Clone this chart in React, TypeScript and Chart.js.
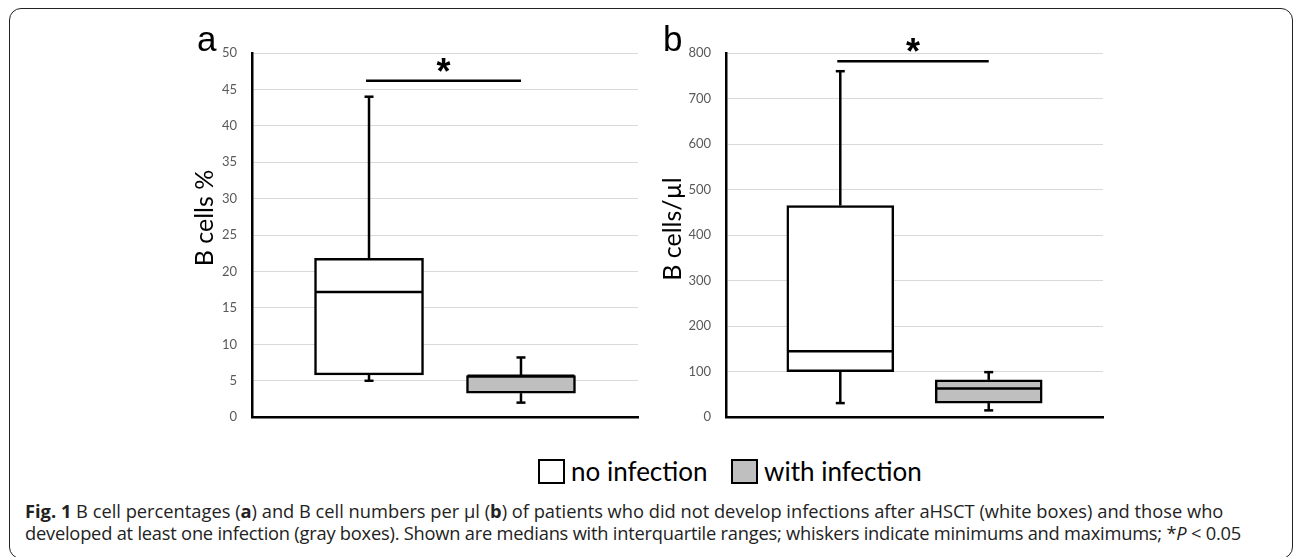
import React, { useEffect, useRef } from 'react';
import { Chart, registerables } from 'chart.js';

Chart.register(...registerables);

// ---- data ----
const groups = ['no infection', 'with infection'];
const groupX = [1, 2];
const fillColors = ['#ffffff', '#bfbfbf'];

// panel a: B cells %
const pctMin = [5.0, 2.0];
const pctQ1 = [5.8, 3.3];
const pctMedian = [17.2, 5.7];
const pctQ3 = [21.8, 5.7];
const pctMax = [44.0, 8.2];
const pctAxis = { min: 0, max: 50, step: 5 };
const pctSig = 46.2;

// panel b: B cells/µl
const absMin = [31, 15];
const absQ1 = [100, 31];
const absMedian = [145, 63];
const absQ3 = [465, 82];
const absMax = [760, 99];
const absAxis = { min: 0, max: 800, step: 100 };
const absSig = 782;

const CHART_FONT = 'Lato, "Open Sans", sans-serif';

type PanelCfg = {
  letter: string;
  title: string;
  mins: number[];
  q1: number[];
  med: number[];
  q3: number[];
  maxs: number[];
  axis: { min: number; max: number; step: number };
  sig: number;
  left: number;
  top: number;
  width: number;
  height: number;
  axisWidth: number;
  padRight: number;
  padTop: number;
  padBottom: number;
  boxWidth: number;
  titleDx: number;
  titleY: number;
  letterX: number;
  letterY: number;
};

const boxPlugin = {
  id: 'boxExtras',
  afterDatasetsDraw(chart: any, _args: any, opts: any) {
    const { ctx, chartArea } = chart;
    const x = chart.scales.x;
    const y = chart.scales.y;
    const cfg: PanelCfg = opts.cfg;
    const meta = chart.getDatasetMeta(0);
    ctx.save();
    ctx.strokeStyle = '#000';
    ctx.lineWidth = 2.5;
    ctx.lineCap = 'butt';
    const line = (x1: number, y1: number, x2: number, y2: number) => {
      ctx.beginPath();
      ctx.moveTo(x1, y1);
      ctx.lineTo(x2, y2);
      ctx.stroke();
    };
    groupX.forEach((gx, i) => {
      const bar = meta.data[i];
      const cx = x.getPixelForValue(gx);
      const half = bar.width / 2;
      const yMax = y.getPixelForValue(cfg.maxs[i]);
      const yMin = y.getPixelForValue(cfg.mins[i]);
      const yQ3 = y.getPixelForValue(cfg.q3[i]);
      const yQ1 = y.getPixelForValue(cfg.q1[i]);
      const yMed = y.getPixelForValue(cfg.med[i]);
      line(cx, yQ3, cx, yMax);
      line(cx - 4.5, yMax, cx + 4.5, yMax);
      line(cx, yQ1, cx, yMin);
      line(cx - 4.5, yMin, cx + 4.5, yMin);
      line(cx - half + 1, yMed, cx + half - 1, yMed);
    });
    // significance bar
    const sy = y.getPixelForValue(cfg.sig);
    const sx1 = x.getPixelForValue(groupX[0]) - 3;
    const sx2 = x.getPixelForValue(groupX[1]);
    line(sx1, sy, sx2, sy);
    ctx.fillStyle = '#000';
    ctx.font = 'bold 36px "Liberation Sans", sans-serif';
    ctx.textAlign = 'center';
    ctx.textBaseline = 'alphabetic';
    ctx.fillText('*', (sx1 + sx2) / 2, sy + 3);
    // axis title
    ctx.save();
    ctx.translate(chartArea.left + cfg.titleDx, cfg.titleY);
    ctx.rotate(-Math.PI / 2);
    ctx.font = '25px ' + CHART_FONT;
    ctx.textAlign = 'center';
    ctx.textBaseline = 'middle';
    ctx.fillText(cfg.title, 0, 0);
    ctx.restore();
    // panel letter
    ctx.font = '35px "Liberation Sans", sans-serif';
    ctx.textAlign = 'left';
    ctx.textBaseline = 'alphabetic';
    ctx.fillText(cfg.letter, cfg.letterX, cfg.letterY);
    ctx.restore();
  },
};

function Panel({ cfg }: { cfg: PanelCfg }) {
  const ref = useRef<HTMLCanvasElement>(null);
  useEffect(() => {
    const canvas = ref.current;
    if (!canvas) return;
    const chart = new Chart(canvas, {
      type: 'bar',
      data: {
        datasets: [
          {
            label: cfg.title,
            data: groupX.map((gx, i) => ({ x: gx, y: [cfg.q1[i], cfg.q3[i]] })),
            backgroundColor: fillColors,
            borderColor: '#000',
            borderWidth: 2.5,
            borderSkipped: false,
            barThickness: cfg.boxWidth,
          },
        ],
      } as any,
      options: {
        animation: false,
        responsive: false,
        maintainAspectRatio: false,
        events: [],
        layout: {
          padding: { left: 0, right: cfg.padRight, top: cfg.padTop, bottom: cfg.padBottom },
        },
        plugins: {
          legend: { display: false },
          tooltip: { enabled: false },
          title: { display: false },
          boxExtras: { cfg },
        } as any,
        scales: {
          x: {
            type: 'linear',
            min: 0.23,
            max: 2.77,
            offset: false,
            grid: { display: false, drawTicks: false },
            ticks: { display: false },
            border: { display: true, color: '#000', width: 2.5 },
            afterFit: (s: any) => {
              s.height = 0;
            },
          },
          y: {
            type: 'linear',
            min: cfg.axis.min,
            max: cfg.axis.max,
            grid: { color: '#d9d9d9', lineWidth: 1, drawTicks: false },
            border: { display: true, color: '#000', width: 2.5 },
            ticks: {
              stepSize: cfg.axis.step,
              padding: 15,
              color: '#595959',
              font: { family: CHART_FONT, size: 13 },
            },
            afterFit: (s: any) => {
              s.width = cfg.axisWidth;
            },
          },
        },
      } as any,
      plugins: [boxPlugin],
    });
    return () => chart.destroy();
  }, [cfg]);
  return (
    <canvas
      ref={ref}
      width={cfg.width}
      height={cfg.height}
      style={{ position: 'absolute', left: cfg.left, top: cfg.top, width: cfg.width, height: cfg.height }}
    />
  );
}

const panelA: PanelCfg = {
  letter: 'a',
  title: 'B cells %',
  mins: pctMin,
  q1: pctQ1,
  med: pctMedian,
  q3: pctQ3,
  maxs: pctMax,
  axis: pctAxis,
  sig: pctSig,
  left: 160,
  top: 20,
  width: 500,
  height: 420,
  axisWidth: 92,
  padRight: 22,
  padTop: 33,
  padBottom: 16,
  boxWidth: 109,
  titleDx: -47,
  titleY: 198,
  letterX: 37,
  letterY: 31,
};

const panelB: PanelCfg = {
  letter: 'b',
  title: 'B cells/µl',
  mins: absMin,
  q1: absQ1,
  med: absMedian,
  q3: absQ3,
  maxs: absMax,
  axis: absAxis,
  sig: absSig,
  left: 630,
  top: 20,
  width: 500,
  height: 420,
  axisWidth: 96,
  padRight: 27,
  padTop: 33,
  padBottom: 17,
  boxWidth: 107,
  titleDx: -53,
  titleY: 209,
  letterX: 33,
  letterY: 31,
};

function LegendItem({ label, color, left }: { label: string; color: string; left: number }) {
  return (
    <div style={{ position: 'absolute', left, top: 456, height: 30, display: 'flex', alignItems: 'center' }}>
      <div
        style={{
          width: 27,
          height: 25,
          boxSizing: 'border-box',
          border: '2px solid #000',
          background: color,
          marginRight: 6,
        }}
      />
      <span style={{ font: '26px ' + CHART_FONT, color: '#000', whiteSpace: 'nowrap' }}>{label}</span>
    </div>
  );
}

export default function App() {
  return (
    <div
      style={{
        position: 'absolute',
        left: 0,
        top: 0,
        width: 1293,
        height: 557,
        overflow: 'hidden',
        background: '#fff',
      }}
    >
      <div
        style={{
          position: 'absolute',
          left: 9,
          top: 8,
          width: 1284,
          height: 551,
          boxSizing: 'border-box',
          border: '1.5px solid #222',
          borderRadius: 12,
        }}
      />
      <Panel cfg={panelA} />
      <Panel cfg={panelB} />
      <LegendItem label={groups[0]} color={fillColors[0]} left={538} />
      <LegendItem label={groups[1]} color={fillColors[1]} left={731} />
      <div
        style={{
          position: 'absolute',
          left: 25,
          top: 500,
          font: '18.3px "Open Sans", sans-serif',
          lineHeight: '22px',
          color: '#222',
          whiteSpace: 'nowrap',
        }}
      >
        <b>Fig. 1</b> B cell percentages (<b>a</b>) and B cell numbers per µl (<b>b</b>) of patients who did not
        develop infections after aHSCT (white boxes) and those who
        <br />
        <span style={{ letterSpacing: '-0.22px' }}>
          developed at least one infection (gray boxes). Shown are medians with interquartile ranges; whiskers
          indicate minimums and maximums; *<i>P</i> &lt; 0.05
        </span>
      </div>
    </div>
  );
}
